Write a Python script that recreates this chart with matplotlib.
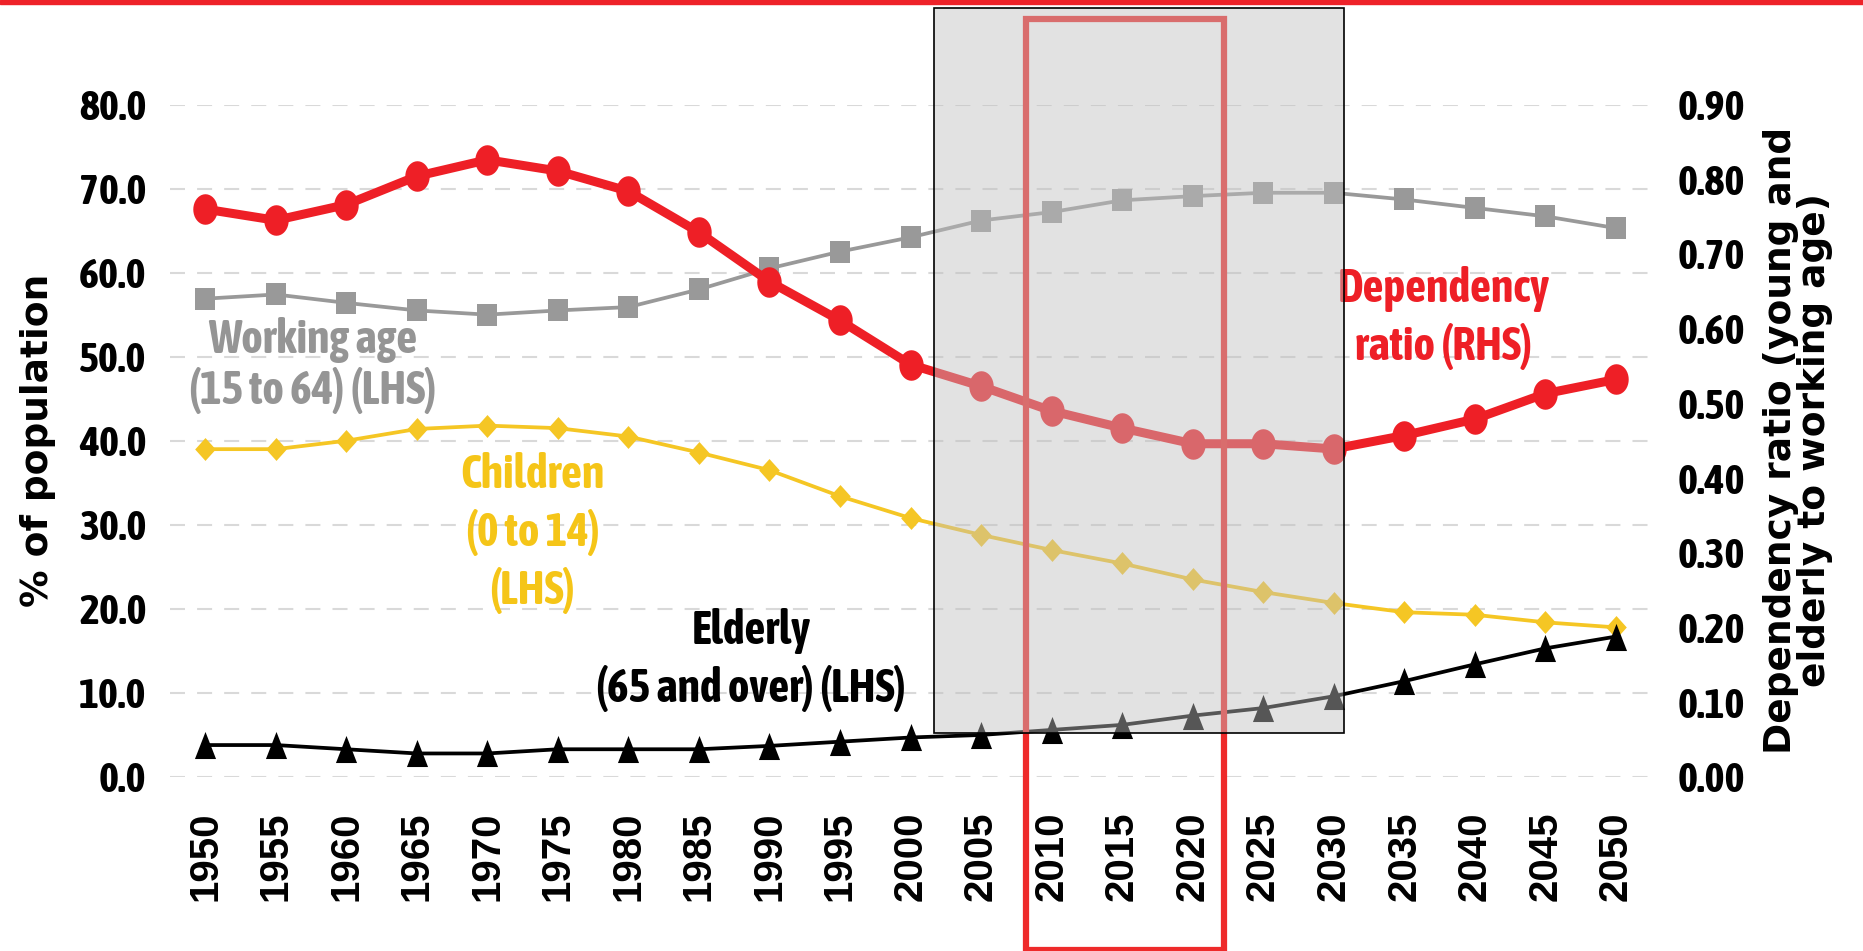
import numpy as np
import matplotlib
matplotlib.use("Agg")
import matplotlib.pyplot as plt
from matplotlib.patches import Rectangle

years = [1950, 1955, 1960, 1965, 1970, 1975, 1980, 1985, 1990, 1995, 2000,
         2005, 2010, 2015, 2020, 2025, 2030, 2035, 2040, 2045, 2050]
working_age = [56.9, 57.4, 56.4, 55.5, 55.0, 55.5, 55.9, 58.0, 60.5, 62.5, 64.2,
               66.2, 67.2, 68.6, 69.1, 69.5, 69.5, 68.7, 67.7, 66.7, 65.3]
children = [39.0, 39.0, 40.0, 41.4, 41.8, 41.5, 40.5, 38.6, 36.5, 33.4, 30.8,
            28.8, 27.0, 25.4, 23.5, 22.0, 20.7, 19.6, 19.3, 18.4, 17.8]
elderly = [3.8, 3.8, 3.3, 2.8, 2.8, 3.3, 3.3, 3.3, 3.7, 4.2, 4.7,
           5.0, 5.6, 6.2, 7.3, 8.2, 9.6, 11.4, 13.4, 15.3, 16.7]
dependency = [0.760, 0.745, 0.766, 0.804, 0.826, 0.811, 0.784, 0.729, 0.663, 0.611, 0.552,
              0.523, 0.490, 0.467, 0.446, 0.446, 0.439, 0.457, 0.479, 0.513, 0.532]

left_ticks = [0, 10, 20, 30, 40, 50, 60, 70, 80]
right_ticks = [0.0, 0.1, 0.2, 0.3, 0.4, 0.5, 0.6, 0.7, 0.8, 0.9]

RED = "#ee1f26"
GREY = "#999999"
YELLOW = "#f5c624"
NARROW = ["Asap Condensed", "Archivo Narrow", "Liberation Sans", "DejaVu Sans"]

# markers are a bit taller than wide in the original
t = np.linspace(0, 2 * np.pi, 41)
m_circle = list(zip(0.8 * np.cos(t), np.sin(t)))
m_square = [(-0.87, -1), (0.87, -1), (0.87, 1), (-0.87, 1), (-0.87, -1)]
m_diamond = [(0, 1), (0.9, 0), (0, -1), (-0.9, 0), (0, 1)]
m_tri = [(0, 1), (0.78, -1), (-0.78, -1), (0, 1)]

fig = plt.figure(figsize=(18.63, 9.51), dpi=100)
ax = fig.add_axes([170 / 1863, 174 / 951, 1481 / 1863, 672.5 / 951])
ax2 = ax.twinx()

ax.plot(years, working_age, color=GREY, lw=2.7, marker=m_square, ms=16, mew=0)
ax.plot(years, children, color=YELLOW, lw=2.7, marker=m_diamond, ms=16.5, mew=0)
ax.plot(years, elderly, color="black", lw=2.7, marker=m_tri, ms=19.5, mew=0)
ax2.plot(years, dependency, color=RED, lw=6.5, marker=m_circle, ms=22, mew=0)

ax.set_xlim(1947.5, 2052.5)
ax.set_ylim(0, 80)
ax2.set_ylim(0, 0.9)
ax.set_xticks(years)
ax.set_xticklabels([str(y) for y in years], rotation=90, fontsize=29,
                   fontweight="bold", family="Liberation Sans")
ax.set_yticks(left_ticks)
ax.set_yticklabels([f"{v:.1f}" for v in left_ticks], fontsize=30.5,
                   fontweight="bold", family=NARROW)
ax2.set_yticks(right_ticks)
ax2.set_yticklabels([f"{v:.2f}" for v in right_ticks], fontsize=30.5,
                    fontweight="bold", family=NARROW)
ax.tick_params(axis="x", length=0, pad=25)
ax.tick_params(axis="y", length=0, pad=17)
ax2.tick_params(axis="y", length=0, pad=19)
ax.grid(axis="y", color="#d9d9d9", lw=1.5, linestyle=(0, (7.2, 5.8)))
ax.set_axisbelow(True)
for a in (ax, ax2):
    for s in a.spines.values():
        s.set_visible(False)

fig.text(38 / 1863, 1 - 440 / 951, "% of population", rotation=90, ha="center",
         va="center", fontsize=27, fontweight="bold", family="DejaVu Sans")
fig.text(1798 / 1863, 1 - 440 / 951, "Dependency ratio (young and\nelderly to working age)",
         rotation=90, ha="center", va="center", multialignment="center",
         fontsize=27, fontweight="bold", family="DejaVu Sans", linespacing=0.95)

lab = dict(ha="center", va="center", fontsize=33, fontweight="bold", family=NARROW)
ax.text(1957.6, 48.95, "Working age\n(15 to 64) (LHS)", color="#959595", linespacing=1.1, **lab)
ax.text(1973.2, 29.0, "Children\n(0 to 14)\n(LHS)", color="#f5c518", linespacing=1.3, **lab)
ax.text(1988.7, 13.9, "Elderly\n(65 and over) (LHS)", color="black", linespacing=1.3, **lab)
ax.text(2037.8, 54.6, "Dependency\nratio (RHS)", color=RED, linespacing=1.3, **lab)

# highlight boxes
fig.add_artist(Rectangle((2008.2, -20.6), 14.0, 110.8, transform=ax.transData,
                         fill=False, edgecolor="#ee2a2a", lw=4.5, zorder=5))
fig.add_artist(Rectangle((2001.7, 5.2), 29.0, 86.3, transform=ax.transData,
                         facecolor="#c0c0c0", alpha=0.45, edgecolor="none", zorder=6))
fig.add_artist(Rectangle((2001.7, 5.2), 29.0, 86.3, transform=ax.transData,
                         fill=False, edgecolor="black", lw=1.2, zorder=7))
fig.add_artist(Rectangle((0, 1 - 4 / 951), 1, 4 / 951, transform=fig.transFigure,
                         color="#ee2229", zorder=8))

fig.savefig("out.png", dpi=100)
